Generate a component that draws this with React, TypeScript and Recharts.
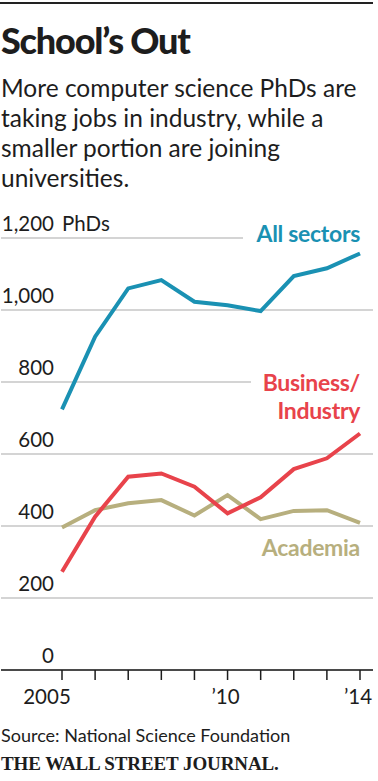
import React from 'react';
import { LineChart, Line, XAxis, YAxis, CartesianGrid, LabelList } from 'recharts';

// PhDs by sector
const years = [2005, 2006, 2007, 2008, 2009, 2010, 2011, 2012, 2013, 2014];
const allSectors = [724, 926, 1060, 1083, 1023, 1013, 997, 1094, 1116, 1157];
const businessIndustry = [273, 426, 537, 546, 509, 435, 480, 558, 588, 657];
const academia = [396, 444, 463, 472, 429, 486, 419, 442, 444, 409];

const yTicks = [0, 200, 400, 600, 800, 1000, 1200];
const yTickText = ['0', '200', '400', '600', '800', '1,000', '1,200'];
const xLabelYears = [2005, 2010, 2014];
const xLabelText = ['2005', '\u201910', '\u201914'];

const BLUE = '#1a91b3';
const RED = '#e8434b';
const TAN = '#b7af7e';
const INK = '#1d1d1d';
const FONT = 'Lato, "Open Sans", sans-serif';

const data = years.map((year, i) => ({
  year,
  all: allSectors[i],
  business: businessIndustry[i],
  academia: academia[i],
}));

const last = years.length - 1;

function YTick({ y, payload }: any) {
  const i = yTicks.indexOf(payload.value);
  return (
    <g>
      <text x={54} y={y - 7} textAnchor="end" fill={INK} fontSize={20.5} fontFamily={FONT}>
        {yTickText[i]}
      </text>
      {payload.value === 1200 && (
        <text x={62} y={y - 7} fill={INK} fontSize={20.5} fontFamily={FONT}>
          PhDs
        </text>
      )}
    </g>
  );
}

function XTick({ x, y, payload }: any) {
  const i = xLabelYears.indexOf(payload.value);
  if (i < 0) return null;
  const shift = i === 0 ? -15 : -2;
  return (
    <text x={x + shift} y={y} dy={22} textAnchor="middle" fill={INK} fontSize={20.5} fontFamily={FONT}>
      {xLabelText[i]}
    </text>
  );
}

const labelStyle = { fontSize: 23, fontWeight: 700, fontFamily: FONT, letterSpacing: -0.3 };

function AllLabel(props: any) {
  const { x, y, index } = props;
  if (index !== last) return null;
  return (
    <g>
      <rect x={243} y={y - 30} width={135} height={23} fill="#fff" />
      <text x={x} y={y - 11} textAnchor="end" fill={BLUE} style={labelStyle}>
        All sectors
      </text>
    </g>
  );
}

function BusinessLabel(props: any) {
  const { x, y, index } = props;
  if (index !== last) return null;
  return (
    <g>
      <rect x={251} y={y - 64} width={127} height={52} fill="#fff" />
      <text x={x} y={y - 42} textAnchor="end" fill={RED} style={labelStyle}>
        Business/
      </text>
      <text x={x} y={y - 14} textAnchor="end" fill={RED} style={labelStyle}>
        Industry
      </text>
    </g>
  );
}

function AcademiaLabel(props: any) {
  const { x, y, index } = props;
  if (index !== last) return null;
  return (
    <text x={x} y={y + 33} textAnchor="end" fill={TAN} style={labelStyle}>
      Academia
    </text>
  );
}

export default function App() {
  return (
    <div style={{ position: 'relative', width: 378, height: 781, background: '#fff', fontFamily: FONT, color: INK }}>
      <style>{'body{margin:0}'}</style>
      <div style={{ position: 'absolute', left: 0, top: 2, width: 373, height: 2, background: '#222' }} />
      <div style={{ position: 'absolute', left: 1, top: 20, fontSize: 36, lineHeight: '40px', fontWeight: 900, letterSpacing: -1.2 }}>
        School’s Out
      </div>
      <div style={{ position: 'absolute', left: 1, top: 73, width: 377, fontSize: 24.5, lineHeight: '30px' }}>
        More computer science PhDs are taking jobs in industry, while a smaller portion are joining universities.
      </div>

      <div style={{ position: 'absolute', left: 0, top: 200 }}>
        <LineChart width={378} height={520} data={data} margin={{ top: 38, right: 5, bottom: 0, left: 0 }}>
          <CartesianGrid vertical={false} stroke="#c6c6c6" strokeWidth={1.5} />
          <XAxis
            dataKey="year"
            type="number"
            domain={[2005, 2014]}
            ticks={years}
            padding={{ left: 61, right: 13 }}
            height={50}
            axisLine={{ stroke: INK, strokeWidth: 1.5 }}
            tickLine={{ stroke: INK, strokeWidth: 1.5 }}
            tickSize={10}
            tick={<XTick />}
            interval={0}
          />
          <YAxis
            domain={[0, 1200]}
            ticks={yTicks}
            width={1}
            axisLine={false}
            tickLine={false}
            tick={<YTick />}
            interval={0}
          />
          <Line dataKey="academia" stroke={TAN} strokeWidth={4} dot={false} isAnimationActive={false}>
            <LabelList content={<AcademiaLabel />} />
          </Line>
          <Line dataKey="business" stroke={RED} strokeWidth={4} dot={false} isAnimationActive={false}>
            <LabelList content={<BusinessLabel />} />
          </Line>
          <Line dataKey="all" stroke={BLUE} strokeWidth={4} dot={false} isAnimationActive={false}>
            <LabelList content={<AllLabel />} />
          </Line>
        </LineChart>
      </div>

      <div style={{ position: 'absolute', left: 1, top: 724, fontSize: 18, lineHeight: '22px' }}>
        Source: National Science Foundation
      </div>
      <div
        style={{
          position: 'absolute',
          left: 1,
          top: 753,
          fontSize: 19,
          lineHeight: '22px',
          fontFamily: '"Liberation Serif", "DejaVu Serif", serif',
          fontWeight: 700,
          letterSpacing: -0.1,
          whiteSpace: 'nowrap',
        }}
      >
        THE WALL STREET JOURNAL.
      </div>
    </div>
  );
}
